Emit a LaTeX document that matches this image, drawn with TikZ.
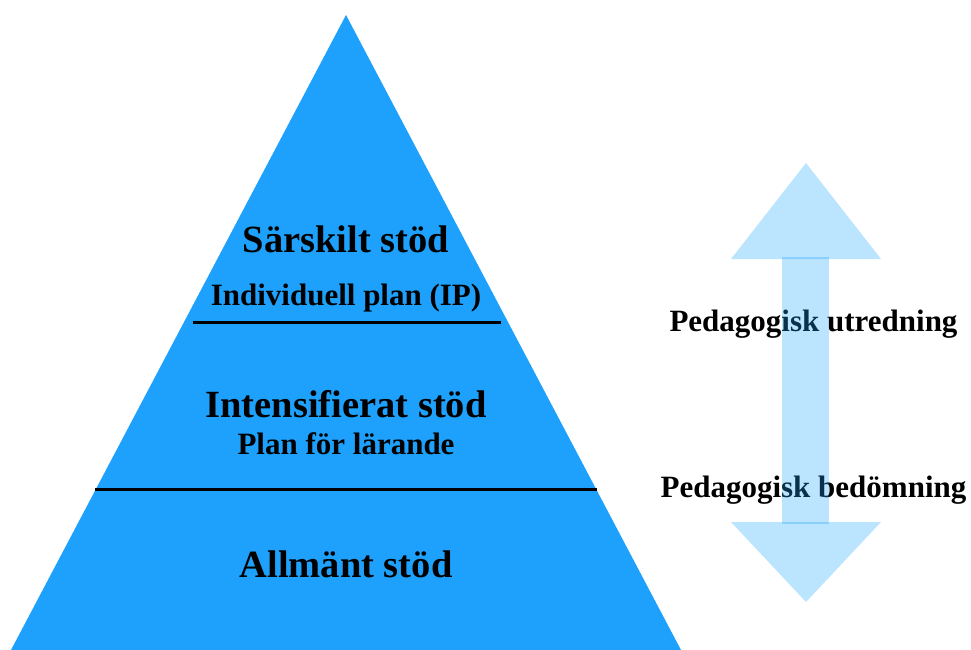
\documentclass[tikz,border=0pt]{standalone}
\usepackage{fontspec}
\setmainfont{Liberation Serif}
\definecolor{pyrblue}{RGB}{29,161,253}
\definecolor{arrblue}{RGB}{30,164,252}
\tikzset{
  big/.style={font=\fontsize{38.5}{40}\selectfont\bfseries, anchor=base, inner sep=0pt},
  small/.style={font=\fontsize{31}{33}\selectfont\bfseries, anchor=base, inner sep=0pt},
  divider/.style={line width=3pt},
  arrowshape/.style={fill=arrblue, fill opacity=0.3, draw=none}
}
\begin{document}
\begin{tikzpicture}[x=1pt,y=-1pt]
\useasboundingbox (0,0) rectangle (971,650);
% pyramid
\coordinate (apex) at (346,15);
\coordinate (bl) at (11,650);
\coordinate (br) at (681,650);
\fill[pyrblue] (apex) -- (br) -- (bl) -- cycle;
% dividers
\coordinate (d1l) at (193,322);
\coordinate (d1r) at (501,322);
\coordinate (d2l) at (95,489);
\coordinate (d2r) at (597,489);
\draw[divider] (d1l) -- (d1r);
\draw[divider] (d2l) -- (d2r);
% texts
\node[big] (sars) at (346,252) {Särskilt stöd};
\node[small] (ip) at (346,305) {Individuell plan (IP)};
\node[big] (inte) at (346,417) {Intensifierat stöd};
\node[small] (plan) at (346,454) {Plan för lärande};
\node[big] (allm) at (346,577) {Allmänt stöd};
\node[small] (utr) at (813.5,331) {Pedagogisk utredning};
\node[small] (bed) at (813.5,497) {Pedagogisk bedömning};
% double arrow: two heads and a shaft that overlaps them slightly
\fill[arrowshape] (806,163) -- (881,259) -- (731,259) -- cycle;
\fill[arrowshape] (731,522) -- (881,522) -- (806,602) -- cycle;
\fill[arrowshape] (782,257) rectangle (829,524);
\end{tikzpicture}
\end{document}
